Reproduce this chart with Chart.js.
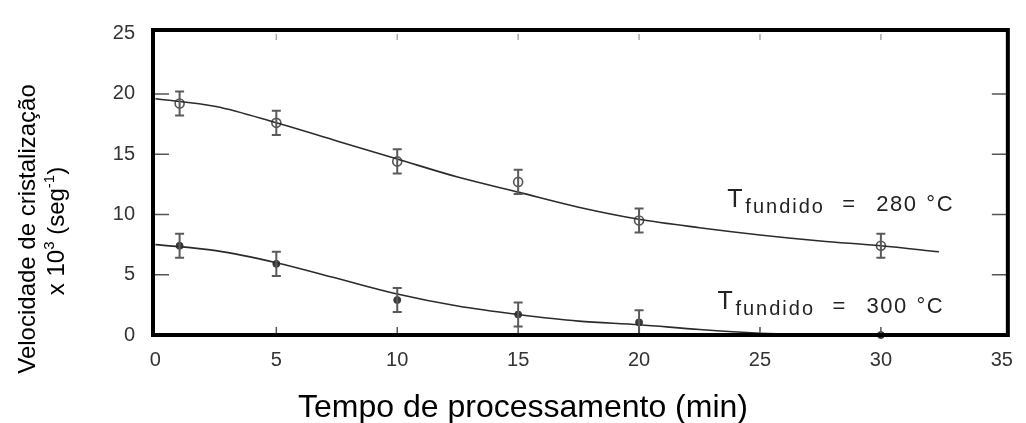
<!DOCTYPE html>
<html><head><meta charset="utf-8">
<script src="https://cdn.jsdelivr.net/npm/chart.js@4.4.0/dist/chart.umd.min.js"></script>
<style>html,body{margin:0;padding:0;background:#fff;}#wrap{width:1026px;height:423px;position:relative;}</style>
</head><body><div id="wrap"><canvas id="c"></canvas></div>
<script>
// ---- data ----
const xTicks = [0, 5, 10, 15, 20, 25, 30, 35];
const yTicks = [0, 5, 10, 15, 20, 25];

const time280 = [1, 5, 10, 15, 20, 30];
const rate280 = [19.2, 17.6, 14.4, 12.7, 9.5, 7.4];
const err280  = [1.0, 1.0, 1.0, 1.0, 1.0, 1.0];

const time300 = [1, 5, 10, 15, 20, 30];
const rate300 = [7.4, 5.9, 2.9, 1.7, 1.05, 0];
const err300  = [1.0, 1.0, 1.0, 1.0, 1.0, 0];

const fitTime280 = [0, 2.5, 5, 7.5, 10, 12.5, 15, 17.5, 20, 22.5, 25, 27.5, 30, 32.4];
const fitRate280 = [19.6, 18.95, 17.6, 16.1, 14.6, 13.1, 11.85, 10.6, 9.6, 8.9, 8.3, 7.8, 7.4, 6.9];
const fitTime300 = [0, 2.5, 5, 7.5, 10, 12.5, 15, 17.5, 20, 22.5, 25, 27.5];
const fitRate300 = [7.5, 7.0, 6.0, 4.7, 3.4, 2.4, 1.7, 1.15, 0.85, 0.45, 0.15, 0.0];

const temp280 = '280';
const temp300 = '300';
const xTitle = 'Tempo de processamento (min)';
const yTitle1 = 'Velocidade de cristalização';

const FONT = '"Liberation Sans", Arial, sans-serif';
const pts = (xs, ys) => xs.map((x, i) => ({x: x, y: ys[i]}));

const errorBars = {
  id: 'errorBars',
  afterDatasetsDraw(chart) {
    const ctx = chart.ctx, xs = chart.scales.x, ys = chart.scales.y;
    ctx.save();
    ctx.strokeStyle = '#5a5a5a';
    ctx.lineWidth = 2;
    [[time280, rate280, err280], [time300, rate300, err300]].forEach(([t, r, e]) => {
      t.forEach((tv, i) => {
        if (!e[i]) return;
        const px = xs.getPixelForValue(tv);
        const y1 = ys.getPixelForValue(r[i] + e[i]);
        const y2 = ys.getPixelForValue(r[i] - e[i]);
        ctx.beginPath();
        ctx.moveTo(px, y1); ctx.lineTo(px, y2);
        ctx.moveTo(px - 4.5, y1); ctx.lineTo(px + 4.5, y1);
        ctx.moveTo(px - 4.5, y2); ctx.lineTo(px + 4.5, y2);
        ctx.stroke();
      });
    });
    ctx.restore();
  }
};

function drawAnno(ctx, px, py, num) {
  ctx.save();
  ctx.fillStyle = '#222';
  ctx.textBaseline = 'alphabetic';
  ctx.textAlign = 'left';
  ctx.font = '25px ' + FONT;
  ctx.fillText('T', px, py);
  ctx.font = '20px ' + FONT;
  ctx.letterSpacing = '2px';
  ctx.fillText('fundido', px + 18, py + 6);
  ctx.letterSpacing = '1.5px';
  ctx.font = '22px ' + FONT;
  ctx.fillText('=', px + 115, py + 4);
  ctx.fillText(num, px + 149, py + 4);
  ctx.fillText('°C', px + 199, py + 4);
  ctx.restore();
}

const frameAndText = {
  id: 'frameAndText',
  afterDraw(chart) {
    const ctx = chart.ctx, a = chart.chartArea, xs = chart.scales.x, ys = chart.scales.y;
    ctx.save();
    // inner tick marks
    ctx.strokeStyle = '#555';
    ctx.lineWidth = 1.5;
    yTicks.slice(1, -1).forEach(v => {
      const py = ys.getPixelForValue(v);
      ctx.beginPath();
      ctx.moveTo(a.left, py); ctx.lineTo(a.left + 16, py);
      ctx.moveTo(a.right, py); ctx.lineTo(a.right - 16, py);
      ctx.stroke();
    });
    xTicks.slice(1, -1).forEach(v => {
      const px = xs.getPixelForValue(v);
      ctx.strokeStyle = '#555';
      ctx.beginPath();
      ctx.moveTo(px, a.bottom); ctx.lineTo(px, a.bottom - 8);
      ctx.stroke();
      ctx.strokeStyle = '#aaa';
      ctx.beginPath();
      ctx.moveTo(px, a.top + 4); ctx.lineTo(px, a.top + 10);
      ctx.stroke();
    });
    // frame
    ctx.strokeStyle = '#000';
    ctx.lineWidth = 4;
    ctx.strokeRect(a.left, a.top, a.right - a.left, a.bottom - a.top);

    // annotations anchored in data coordinates
    drawAnno(ctx, xs.getPixelForValue(23.65), ys.getPixelForValue(10.65), temp280);
    drawAnno(ctx, xs.getPixelForValue(23.24), ys.getPixelForValue(2.18), temp300);

    // x title
    ctx.fillStyle = '#000';
    ctx.font = '32px ' + FONT;
    ctx.textAlign = 'left';
    ctx.textBaseline = 'alphabetic';
    ctx.fillText(xTitle, 298, 417);

    // y title line 1
    ctx.save();
    ctx.translate(35, 229);
    ctx.rotate(-Math.PI / 2);
    ctx.font = '24px ' + FONT;
    ctx.textAlign = 'center';
    ctx.fillText(yTitle1, 0, 0);
    ctx.restore();

    // y title line 2 with superscripts
    ctx.save();
    ctx.translate(64, 231);
    ctx.rotate(-Math.PI / 2);
    ctx.textAlign = 'left';
    const segs = [['x 10', 24, 0], ['3', 15, -10], [' (seg', 24, 0], ['-1', 15, -10], [')', 24, 0]];
    let total = 0;
    segs.forEach(s => { ctx.font = s[1] + 'px ' + FONT; total += ctx.measureText(s[0]).width; });
    let cx = -total / 2;
    segs.forEach(s => { ctx.font = s[1] + 'px ' + FONT; ctx.fillText(s[0], cx, s[2]); cx += ctx.measureText(s[0]).width; });
    ctx.restore();

    ctx.restore();
  }
};

new Chart(document.getElementById('c'), {
  type: 'scatter',
  data: {
    datasets: [
      { label: 'ajuste 280', data: pts(fitTime280, fitRate280), showLine: true, borderColor: '#2b2b2b',
        borderWidth: 1.6, pointRadius: 0, cubicInterpolationMode: 'monotone', fill: false, clip: false },
      { label: 'ajuste 300', data: pts(fitTime300, fitRate300), showLine: true, borderColor: '#2b2b2b',
        borderWidth: 1.6, pointRadius: 0, cubicInterpolationMode: 'monotone', fill: false, clip: false },
      { label: 'T = 280 °C', data: pts(time280, rate280), showLine: false, pointRadius: 4.5,
        pointBorderWidth: 1.6, pointBorderColor: '#555', pointBackgroundColor: 'rgba(255,255,255,0)', clip: false },
      { label: 'T = 300 °C', data: pts(time300, rate300), showLine: false, pointRadius: 3.5,
        pointBorderWidth: 1, pointBorderColor: '#3a3a3a', pointBackgroundColor: '#3a3a3a', clip: false }
    ]
  },
  options: {
    responsive: true, maintainAspectRatio: false, animation: false,
    layout: { padding: { top: 21.5, right: 11, left: 0, bottom: 0 } },
    plugins: { legend: { display: false }, tooltip: { enabled: false } },
    scales: {
      x: {
        type: 'linear', min: -0.1, max: 35.25,
        afterBuildTicks: s => { s.ticks = xTicks.map(v => ({ value: v })); },
        afterFit: s => { s.height = 88; },
        grid: { display: false, drawTicks: false }, border: { display: false },
        ticks: { padding: 13, color: '#333', font: { family: FONT, size: 20 }, maxRotation: 0, autoSkip: false }
      },
      y: {
        type: 'linear', min: 0, max: 25.3,
        afterBuildTicks: s => { s.ticks = yTicks.map(v => ({ value: v })); },
        afterFit: s => { s.width = 153; },
        grid: { display: false, drawTicks: false }, border: { display: false },
        ticks: { padding: 18, color: '#333', font: { family: FONT, size: 20 }, autoSkip: false }
      }
    }
  },
  plugins: [errorBars, frameAndText]
});
</script></body></html>
